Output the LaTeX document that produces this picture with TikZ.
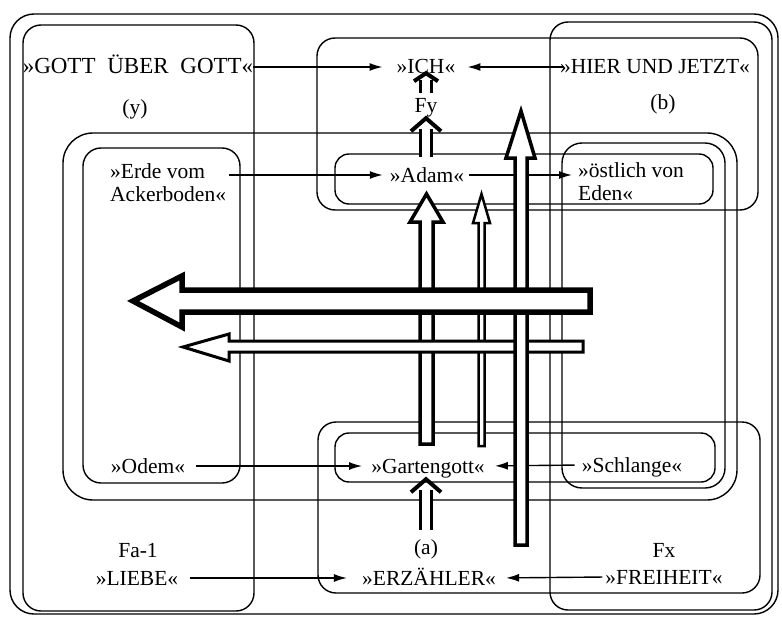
\documentclass[tikz,border=0pt]{standalone}
\usepackage{fontspec}
\setmainfont{Liberation Serif}
\usetikzlibrary{arrows.meta}
\begin{document}
\begin{tikzpicture}[x=1pt,y=-1pt,
  box/.style={line width=1.4pt, rounded corners=#1},
  lbl/.style={inner sep=0pt, text height=14pt, text depth=0pt, font=\fontsize{21.5}{23}\selectfont},
  mlbl/.style={inner sep=0pt, align=left, font=\fontsize{21.5}{23}\selectfont},
  conn/.style={line width=1.4pt, -{Latex[length=13pt,width=8pt]}},
  dshaft/.style={double, double distance=8pt, line width=3.3pt},
  chev/.style={line width=4pt, line join=miter, miter limit=10},
  hol/.style={fill=white, line join=miter, miter limit=10},
]
\useasboundingbox (0,0) rectangle (782,618);
% frames
\draw[box=24pt] (10,14) rectangle (778,614);
\draw[box=18pt] (23,25) rectangle (254,611);
\draw[box=18pt] (550,22) rectangle (772,610);
\draw[box=18pt] (317,38) rectangle (758,210);
\draw[box=18pt] (318,422) rectangle (760,593);
\draw[box=30pt] (63,133) rectangle (737,500);
\draw[box=18pt] (83,148) rectangle (240,483);
\draw[box=20pt] (562,143) rectangle (725,488);
\draw[box=14pt] (335,154) rectangle (713,204);
\draw[box=14pt] (335,433) rectangle (715,482);
% labels
\node[lbl, anchor=base, font=\fontsize{23}{25}\selectfont] (gott) at (138,74) {»GOTT\hspace{6pt} ÜBER\hspace{6pt} GOTT«};
\node[lbl, anchor=base] (ich) at (426,74) {»ICH«};
\node[lbl, anchor=base] (hier) at (655,74) {»HIER UND JETZT«};
\node[lbl, anchor=base] (ylab) at (135,114) {(y)};
\node[lbl, anchor=base] (blab) at (663,109) {(b)};
\node[lbl, anchor=base] (fy) at (426,112) {Fy};
\node[mlbl, anchor=west] (erde) at (110,182.5) {»Erde vom\\Ackerboden«};
\node[lbl, anchor=base] (adam) at (427,182) {»Adam«};
\node[mlbl, anchor=west] (oest) at (578,181.5) {»östlich von\\Eden«};
\node[lbl, anchor=base] (odem) at (148,473) {»Odem«};
\node[lbl, anchor=base] (garten) at (428,473) {»Gartengott«};
\node[lbl, anchor=base] (schlange) at (632,472) {»Schlange«};
\node[lbl, anchor=base] (fa) at (138,557) {Fa-1};
\node[lbl, anchor=base] (liebe) at (137,585) {»LIEBE«};
\node[lbl, anchor=base] (alab) at (426,554) {(a)};
\node[lbl, anchor=base] (erz) at (429,585) {»ERZÄHLER«};
\node[lbl, anchor=base] (fx) at (664,557) {Fx};
\node[lbl, anchor=base] (frei) at (664,584) {»FREIHEIT«};
% connectors
\draw[conn, shorten >=14pt] (gott.east |- ich.west) -- (ich.west);
\draw[conn, shorten <=-4pt, shorten >=12pt] (hier.west) -- (ich.east);
\draw[conn, shorten <=3pt, shorten >=7pt] (erde.east |- adam.west) -- (adam.west);
\draw[conn, shorten <=5pt, shorten >=6pt] (adam.east) -- (adam.east -| oest.west);
\draw[conn, shorten <=11pt, shorten >=9pt] (odem.east) -- (garten.west);
\draw[conn, shorten <=7pt, shorten >=10pt] (schlange.west) -- (garten.east);
\draw[conn, shorten <=12pt, shorten >=15pt] (liebe.east) -- (erz.west);
\draw[conn, shorten <=3pt, shorten >=10pt] (frei.west) -- (erz.east);
% hollow arrows (bottom layer first)
\draw[hol, line width=3.5pt] (420,444) -- (420,222) -- (410,222) -- (426.5,194) -- (443,222) -- (433,222) -- (433,444) -- cycle;
\draw[hol, line width=2.5pt] (478.5,446) -- (478.5,223) -- (473,223) -- (481.5,194) -- (490,223) -- (484.5,223) -- (484.5,446) -- cycle;
\draw[hol, line width=3pt] (583,341) -- (229,341) -- (229,334) -- (183,347) -- (229,361) -- (229,352) -- (583,352) -- cycle;
\draw[hol, line width=3.5pt] (515,545) -- (515,158) -- (506,158) -- (521,111) -- (535,158) -- (527,158) -- (527,545) -- cycle;
\draw[hol, line width=5.5pt] (590,290) -- (182,290) -- (182,276) -- (133,301) -- (182,327) -- (182,312) -- (590,312) -- cycle;
% double arrows
\coordinate (adamtop) at (426,157);
\coordinate (ichtip) at ([yshift=1pt]ich.south -| fy.north);
\coordinate (fytip) at ([yshift=-6pt]fy.south);
\coordinate (gtip) at ([yshift=-6pt]garten.south -| alab.north);
\draw[dshaft, shorten <=5pt, shorten >=7pt] (fy.north) -- (ichtip);
\draw[chev] ([xshift=-12pt,yshift=-8pt]ichtip) -- (ichtip) -- ([xshift=12pt,yshift=-8pt]ichtip);
\draw[dshaft, shorten >=11pt] (adamtop) -- (fytip);
\draw[chev] ([xshift=-15pt,yshift=-13pt]fytip) -- (fytip) -- ([xshift=15pt,yshift=-13pt]fytip);
\draw[dshaft, shorten <=10pt, shorten >=11pt] (alab.north) -- (gtip);
\draw[chev] ([xshift=-15pt,yshift=-13pt]gtip) -- (gtip) -- ([xshift=15pt,yshift=-13pt]gtip);
\end{tikzpicture}
\end{document}
